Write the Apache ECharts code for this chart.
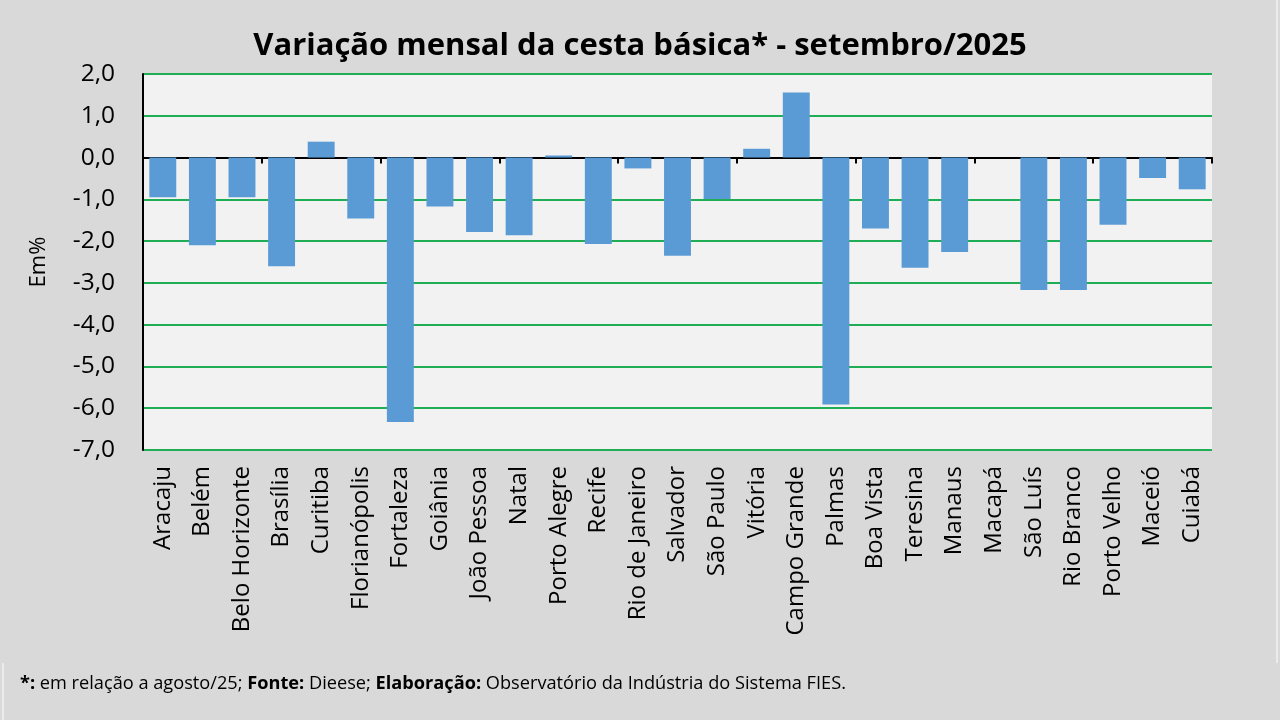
<!DOCTYPE html>
<html>
<head>
<meta charset="utf-8">
<script src="https://cdn.jsdelivr.net/npm/echarts@6/dist/echarts.min.js"></script>
<style>
html,body{margin:0;padding:0;background:#d9d9d9;}
#chart{width:1280px;height:720px;}
</style>
</head>
<body>
<div id="chart"></div>
<script>
const categories = ["Aracaju","Belém","Belo Horizonte","Brasília","Curitiba","Florianópolis","Fortaleza","Goiânia","João Pessoa","Natal","Porto Alegre","Recife","Rio de Janeiro","Salvador","São Paulo","Vitória","Campo Grande","Palmas","Boa Vista","Teresina","Manaus","Macapá","São Luís","Rio Branco","Porto Velho","Maceió","Cuiabá"];
const variacao = [-0.95,-2.10,-0.95,-2.60,0.38,-1.46,-6.33,-1.17,-1.78,-1.86,0.05,-2.07,-0.26,-2.35,-0.99,0.21,1.56,-5.91,-1.70,-2.64,-2.26,0,-3.17,-3.17,-1.61,-0.49,-0.76];
const yTicks = {min:-7, max:2, interval:1};
const titleText = "Variação mensal da cesta básica* - setembro/2025";
const yName = "Em%";

const FONT = "'Open Sans', Lato, sans-serif";
const chart = echarts.init(document.getElementById('chart'));
chart.setOption({
  backgroundColor:'#d9d9d9',
  animation:false,
  title:{
    text:titleText, left:'center', top:26,
    textStyle:{fontFamily:FONT, fontSize:31, fontWeight:'bold', color:'#000'}
  },
  grid:{left:143, right:68, top:74, bottom:270, show:true, backgroundColor:'#f2f2f2', borderWidth:0},
  xAxis:[{
    type:'category', data:categories, position:'bottom',
    axisLine:{show:false, onZero:false}, axisTick:{show:false},
    axisLabel:{rotate:90, margin:16, fontFamily:FONT, fontSize:24, color:'#000', interval:0}
  },{
    type:'category', data:categories, position:'bottom',
    axisLine:{show:true, onZero:true, onZeroAxisIndex:0, lineStyle:{color:'#000', width:2}},
    axisTick:{show:true, length:6, lineStyle:{color:'#000', width:2}},
    axisLabel:{show:false}
  }],
  yAxis:{
    type:'value', min:yTicks.min, max:yTicks.max, interval:yTicks.interval,
    name:yName, nameLocation:'middle', nameGap:93,
    nameTextStyle:{fontFamily:FONT, fontSize:22, color:'#000'},
    axisLine:{show:true, lineStyle:{color:'#000', width:2}},
    axisTick:{show:false},
    axisLabel:{margin:28, fontFamily:FONT, fontSize:24.5, color:'#000',
      formatter:v=>v.toFixed(1).replace('.',',')},
    splitLine:{show:true, lineStyle:{color:'#1fae55', width:2}}
  },
  series:[{
    type:'bar', data:variacao, xAxisIndex:0, barWidth:'68%',
    itemStyle:{color:'#5b9bd5'}
  }],
  graphic:[
    {type:'line', shape:{x1:1277,y1:0,x2:1277,y2:663}, style:{stroke:'#ebebeb', lineWidth:2}},
    {type:'line', shape:{x1:3,y1:663,x2:3,y2:720}, style:{stroke:'#ebebeb', lineWidth:2}},
    {type:'text', left:20, top:675, style:{
      text:'{b|*:} em relação a agosto/25; {b|Fonte:} Dieese; {b|Elaboração:} Observatório da Indústria do Sistema FIES.',
      rich:{b:{fontWeight:'bold', fontFamily:FONT, fontSize:18.2, fill:'#000'}},
      fontFamily:FONT, fontSize:18.2, fill:'#000'
    }}
  ]
});
</script>
</body>
</html>
